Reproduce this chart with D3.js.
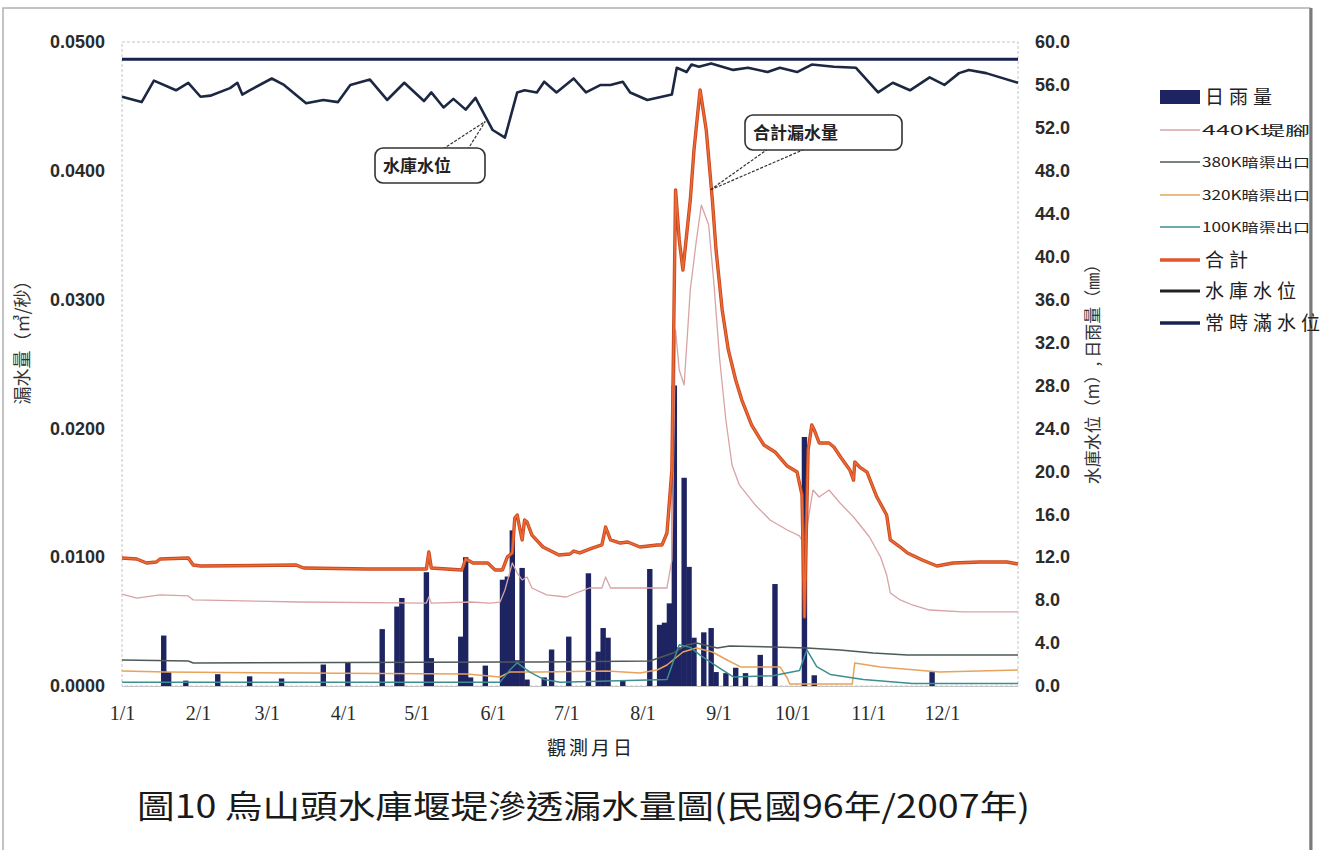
<!DOCTYPE html>
<html>
<head>
<meta charset="utf-8">
<script src="https://cdn.jsdelivr.net/npm/d3@7"></script>
<style>
body { margin: 0; background: #fff; }
svg { display: block; }
</style>
</head>
<body>
<svg id="chart" width="1329" height="850"></svg>
<script>
//axis labels
var monthLabels = ["1/1","2/1","3/1","4/1","5/1","6/1","7/1","8/1","9/1","10/1","11/1","12/1"];
var monthDays = [0,31,59,90,120,151,181,212,243,273,304,334];
var leftTicks = [0,0.01,0.02,0.03,0.04,0.05];
var rightTicks = [0,4,8,12,16,20,24,28,32,36,40,44,48,52,56,60];

//daily rainfall (mm), day of year
var rainDays = [17,19,26,39,52,65,82,92,106,112,114,124,126,138,140,142,148,155,157,159,161,163,165,172,175,182,190,194,196,198,204,215,219,221,223,225,227,229,231,233,237,240,242,246,250,254,260,266,278,282,330];
var rainMm   = [4.7,1.3,0.5,1.1,0.9,0.7,2.0,2.2,5.3,7.4,8.2,10.6,2.6,4.6,12.0,0.8,1.9,9.9,10.2,14.5,2.4,11.0,0.6,0.8,3.4,4.6,10.5,3.2,5.4,4.5,0.5,10.9,5.7,5.9,7.7,28.0,3.6,19.4,11.1,4.5,5.0,5.4,1.3,1.2,1.7,1.2,2.9,9.5,23.2,1.0,1.3];

//leakage series (m3/s) as [day, value]
var leak440 = [[0,0.00714],[6,0.00683],[15.5,0.00707],[27,0.00699],[29,0.00668],[72.5,0.00652],[124,0.00644],[125,0.00691],[126,0.00644],[142,0.00652],[150,0.00644],[154,0.00652],[156,0.00745],[159,0.00955],[161,0.00877],[163,0.00823],[165,0.00846],[167,0.00761],[173,0.00707],[181,0.00691],[185,0.00722],[190.5,0.00761],[195.5,0.00761],[197,0.00846],[199,0.00761],[222,0.00761],[224,0.00978],[225.5,0.02764],[227,0.02453],[229,0.02337],[231.5,0.03075],[234,0.03463],[236,0.03734],[239,0.03579],[241,0.03152],[243.5,0.02531],[246,0.02065],[248.5,0.01716],[251.5,0.01561],[258,0.01405],[264,0.01289],[271,0.01211],[276,0.01165],[278,0.01095],[279.5,0.01289],[281.5,0.01522],[284,0.01467],[288,0.01522],[292.5,0.01421],[298,0.01312],[304.5,0.01157],[309,0.01002],[311.5,0.00862],[313,0.00722],[317,0.00668],[322,0.00629],[329,0.00590],[342.5,0.00575],[365,0.00575]];
var leak380 = [[0,0.00202],[27,0.00194],[29,0.00179],[170,0.00186],[215,0.00194],[224.5,0.00256],[230,0.00318],[234,0.00334],[242.5,0.00295],[247.5,0.00311],[265,0.00303],[279,0.00295],[292.5,0.00280],[306,0.00256],[320,0.00241],[365,0.00241]];
var leak320 = [[0,0.00116],[18,0.00109],[72.5,0.00101],[140.5,0.00093],[154,0.00070],[158,0.00109],[170,0.00109],[197.5,0.00116],[211,0.00101],[218,0.00124],[222,0.00163],[224.5,0.00202],[228.5,0.00264],[234,0.00295],[240.5,0.00264],[246.5,0.00202],[252,0.00148],[268,0.00148],[271,0.00062],[272,0.00016],[297.5,0.00016],[298.5,0.00179],[309,0.00148],[333,0.00109],[365,0.00124]];
var leak100 = [[0,0.0003],[154,0.0003],[158,0.00124],[161,0.0018],[166,0.0011],[172,0.0005],[178.5,0.0003],[222,0.0005],[227,0.0032],[231.5,0.0030],[235.5,0.0024],[242.5,0.0015],[249,0.0007],[265,0.0008],[276,0.0012],[279,0.0028],[283,0.0015],[288.5,0.0009],[302,0.0005],[322,0.0002],[365,0.0002]];
var leakTotal = [[0,0.00994],[6,0.00986],[10,0.00955],[14,0.00963],[15.5,0.00986],[27,0.00994],[29,0.00939],[32,0.00932],[71,0.00939],[74,0.00916],[100,0.00908],[124,0.00908],[125,0.01040],[126,0.00916],[138.5,0.00901],[140,0.00986],[143,0.00955],[149,0.00955],[152,0.00901],[155,0.00901],[157,0.01002],[159,0.01033],[160,0.01304],[161,0.01328],[162,0.01227],[163,0.01134],[164,0.01289],[165,0.01273],[167,0.01172],[171.5,0.01079],[178,0.01017],[182.5,0.01025],[184,0.01048],[186.5,0.01033],[191.5,0.01071],[195.5,0.01095],[197,0.01234],[199,0.01134],[203,0.01110],[206,0.01118],[211,0.01079],[218,0.01095],[220,0.01095],[222,0.01188],[224,0.01677],[225.5,0.03851],[227,0.03463],[228.5,0.03230],[231.5,0.03773],[233,0.04161],[235.5,0.04627],[238,0.04317],[240.5,0.03773],[242,0.03385],[244.5,0.02919],[247,0.02609],[250,0.02376],[252.5,0.02220],[256.5,0.02026],[261.5,0.01871],[266,0.01817],[271,0.01708],[275,0.01661],[277,0.01483],[278,0.00536],[279.5,0.01832],[281,0.02026],[282,0.01988],[284,0.01887],[288,0.01887],[290,0.01856],[293,0.01770],[296.5,0.01677],[298,0.01599],[298.5,0.01739],[300.5,0.01700],[303.5,0.01661],[307.5,0.01467],[311.5,0.01328],[313,0.01134],[317,0.01079],[320,0.01033],[326,0.00978],[332,0.00932],[338.5,0.00955],[349.5,0.00963],[360.5,0.00963],[365,0.00947]];

//reservoir level (m) as [day, value]
var resLevel = [[0,54.9],[8,54.4],[13,56.4],[22,55.5],[27,56.2],[32,54.9],[36,55.0],[44,55.7],[47,56.2],[49,55.1],[52,55.5],[61,56.6],[66,56.0],[75,54.3],[82,54.6],[88,54.4],[93,56.0],[101,56.5],[108,54.6],[115,56.2],[123,54.5],[126,55.3],[131,53.9],[135,54.7],[140,53.7],[144,54.8],[151,51.8],[156,51.1],[161,55.3],[164,55.5],[169,55.3],[172,56.3],[177,55.3],[184,56.6],[189,55.3],[195,56.0],[199,56.0],[204,56.3],[207,55.3],[214,54.6],[224,55.1],[226,57.6],[230,57.2],[232,57.9],[235,57.7],[240,58.0],[249,57.4],[255,57.6],[263,57.2],[268,57.6],[275,57.2],[281,57.9],[290,57.7],[299,57.6],[308,55.3],[314,56.2],[321,55.5],[329,56.7],[335,56.0],[341,57.1],[345,57.4],[352,57.1],[365,56.2]];
var fullLevel = [[0,58.4],[365,58.4]];

var legendNames = ["日雨量","440K堤腳","380K暗渠出口","320K暗渠出口","100K暗渠出口","合計","水庫水位","常時滿水位"];

//chart frame
var svg = d3.select("#chart");
var plotL = 122, plotR = 1018, plotT = 42, plotB = 686;

// -- page border like the scanned sheet
svg.append("rect")
  .attr("x", 3).attr("y", 8).attr("width", 1307).attr("height", 850)
  .attr("fill", "none").attr("stroke", "#b0b0b0").attr("stroke-width", 1.5);
svg.append("line")
  .attr("x1", 1311).attr("x2", 1311).attr("y1", 8).attr("y2", 850)
  .attr("stroke", "#7a7a7a").attr("stroke-width", 3);

// -- scales
var x = d3.scaleLinear().domain([0, 365]).range([plotL, plotR]);
var yL = d3.scaleLinear().domain([0, 0.05]).range([plotB, plotT]);
var yR = d3.scaleLinear().domain([0, 60]).range([plotB, plotT]);

// -- plot border
svg.append("rect")
  .attr("x", plotL).attr("y", plotT)
  .attr("width", plotR - plotL).attr("height", plotB - plotT)
  .attr("fill", "none").attr("stroke", "#c4c4c4").attr("stroke-dasharray", "3,2");

// -- rain bars
var barW = x(2.2) - x(0);
svg.append("g").selectAll("rect")
  .data(rainDays)
  .enter()
  .append("rect")
  .attr("x", function(d) { return x(d) - barW / 2; })
  .attr("y", function(d, i) { return yR(rainMm[i]); })
  .attr("width", barW)
  .attr("height", function(d, i) { return plotB - yR(rainMm[i]); })
  .attr("fill", "#1d2461");

// -- lines
var lineL = d3.line().x(function(d) { return x(d[0]); }).y(function(d) { return yL(d[1]); });
var lineR = d3.line().x(function(d) { return x(d[0]); }).y(function(d) { return yR(d[1]); });

function drawPath(data, gen, color, w) {
  svg.append("path")
    .datum(data)
    .attr("d", gen)
    .attr("fill", "none")
    .attr("stroke", color)
    .attr("stroke-width", w)
    .attr("stroke-linejoin", "round");
}
drawPath(leak440, lineL, "#d9a3a6", 1.3);
drawPath(leak380, lineL, "#4d5a58", 1.5);
drawPath(leak320, lineL, "#e7a35a", 1.5);
drawPath(leak100, lineL, "#3b8f91", 1.5);
drawPath(leakTotal, lineL, "#c9481f", 3.4);
drawPath(leakTotal, lineL, "#ee6a34", 1.6);
drawPath(fullLevel, lineR, "#1a2152", 3);
drawPath(resLevel, lineR, "#1c2742", 2.6);

// -- left axis
var axL = svg.append("g")
  .attr("transform", "translate(" + plotL + ",0)")
  .call(d3.axisLeft(yL).tickValues(leftTicks).tickFormat(d3.format(".4f")).tickSize(0).tickPadding(17));
axL.select(".domain").remove();
axL.selectAll("text")
  .attr("font-family", "Liberation Sans, Arial, sans-serif")
  .attr("font-size", 18).attr("font-weight", "bold").attr("fill", "#2b2b2b");

// -- right axis
var axR = svg.append("g")
  .attr("transform", "translate(" + plotR + ",0)")
  .call(d3.axisRight(yR).tickValues(rightTicks).tickFormat(d3.format(".1f")).tickSize(0).tickPadding(17));
axR.select(".domain").remove();
axR.selectAll("text")
  .attr("font-family", "Liberation Sans, Arial, sans-serif")
  .attr("font-size", 18).attr("font-weight", "bold").attr("fill", "#2b2b2b");

// -- bottom axis
var axB = svg.append("g")
  .attr("transform", "translate(0," + plotB + ")")
  .call(d3.axisBottom(x).tickValues(monthDays).tickFormat(function(d, i) { return monthLabels[i]; }).tickSize(0).tickPadding(20));
axB.select(".domain").attr("stroke", "#c4c4c4");
axB.selectAll("text")
  .attr("font-family", "Liberation Serif, Times New Roman, serif")
  .attr("font-size", 20).attr("fill", "#2b2b2b");

// -- axis titles
var cjk = "Noto Sans CJK TC, Noto Sans CJK SC, sans-serif";
svg.append("text")
  .attr("transform", "translate(29,338) rotate(-90)")
  .attr("text-anchor", "middle")
  .attr("font-family", cjk).attr("font-size", 18).attr("fill", "#333")
  .text("漏水量（㎥/秒）");
svg.append("text")
  .attr("transform", "translate(1099,370) rotate(-90)")
  .attr("text-anchor", "middle")
  .attr("font-family", cjk).attr("font-size", 17).attr("fill", "#333")
  .text("水庫水位（m）, 日雨量（㎜）");
svg.append("text")
  .attr("x", 591).attr("y", 755)
  .attr("text-anchor", "middle")
  .attr("font-family", cjk).attr("font-size", 19).attr("letter-spacing", 3).attr("fill", "#222")
  .text("觀測月日");
svg.append("text")
  .attr("x", 137).attr("y", 818)
  .attr("textLength", 893).attr("lengthAdjust", "spacingAndGlyphs")
  .attr("font-family", cjk).attr("font-size", 32).attr("fill", "#1a1a1a")
  .text("圖10 烏山頭水庫堰堤滲透漏水量圖(民國96年/2007年)");

// -- callouts
function callout(bx, by, bw, bh, p1, p2, tip, label) {
  var g = svg.append("g");
  g.append("path")
    .attr("d", "M" + p1[0] + "," + p1[1] + "L" + tip[0] + "," + tip[1] + "L" + p2[0] + "," + p2[1])
    .attr("fill", "none").attr("stroke", "#333").attr("stroke-width", 1.2).attr("stroke-dasharray", "3,1.5");
  g.append("rect")
    .attr("x", bx).attr("y", by).attr("width", bw).attr("height", bh)
    .attr("rx", 8).attr("fill", "#fff").attr("stroke", "#333").attr("stroke-width", 1.6);
  g.append("text")
    .attr("x", bx + 8).attr("y", by + bh / 2 + 6)
    .attr("font-family", cjk).attr("font-size", 17).attr("font-weight", "bold").attr("fill", "#222")
    .text(label);
}
callout(375, 148, 110, 35, [443, 149], [468, 149], [x(148), yR(52.6)], "水庫水位");
callout(745, 115, 157, 35, [768, 149], [805, 149], [x(239.5), yL(0.0385)], "合計漏水量");

// -- legend
var legendY = [97, 130, 162, 195, 227, 260, 291, 323];
var lg = svg.append("g");
legendNames.forEach(function(name, i) {
  var yy = legendY[i];
  if (i === 0) {
    lg.append("rect").attr("x", 1160).attr("y", yy - 7).attr("width", 40).attr("height", 14).attr("fill", "#1d2461");
  } else {
    var col = ["", "#d9a3a6", "#4d5a58", "#e7a35a", "#3b8f91", "#e2552a", "#222", "#1a2152"][i];
    var w = [0, 1.3, 1.5, 1.5, 1.5, 3.4, 3, 3.4][i];
    lg.append("line").attr("x1", 1160).attr("x2", 1200).attr("y1", yy).attr("y2", yy)
      .attr("stroke", col).attr("stroke-width", w);
  }
  var small = (i >= 1 && i <= 4);
  var t = lg.append("text")
    .attr("x", small ? 1202 : 1205).attr("y", yy + (small ? 5 : 7))
    .attr("font-family", cjk).attr("fill", "#222")
    .attr("font-size", small ? 13 : 19)
    .text(name);
  if (small) t.attr("textLength", 108).attr("lengthAdjust", "spacingAndGlyphs");
  else t.attr("letter-spacing", 5);
});
</script>
</body>
</html>
